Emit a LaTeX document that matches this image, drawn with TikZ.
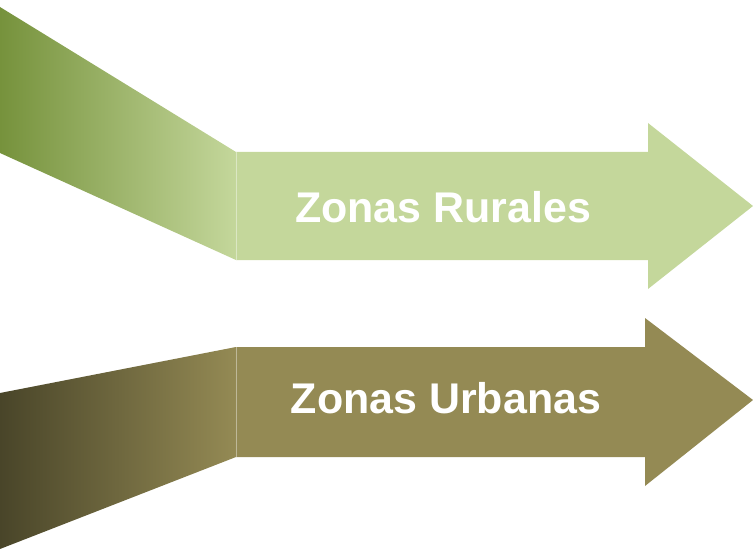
\documentclass[tikz,border=0pt]{standalone}
\usepackage{fontspec}
\setmainfont{Liberation Sans}
\definecolor{ruralLight}{RGB}{196,215,155}
\definecolor{ruralDark}{RGB}{118,146,60}
\definecolor{urbanLight}{RGB}{148,138,84}
\definecolor{urbanDark}{RGB}{73,69,41}
\tikzset{
  zonetext/.style = {text = white, font = \fontsize{32.2}{38}\selectfont\bfseries},
  seam/.style = {white, opacity = .4, line width = .4pt}
}
\begin{document}
\begin{tikzpicture}[x = .75pt, y = -.75pt]
      \useasboundingbox (0,0) rectangle (753,549);
      % rurales
      \shade [left color = ruralDark, right color = ruralLight] (0,7) -- (236,152) -- (236,260) -- (0,153) -- cycle;
      \fill [ruralLight] (236,152) -- (648,152) -- (648,123) -- (753,206) -- (648,289) -- (648,260) -- (236,260) -- cycle;
      \draw [seam] (236,152) -- (236,260);
      \node [zonetext] (rurales) at (443,207) {Zonas Rurales};
      % urbanas
      \shade [left color = urbanDark, right color = urbanLight] (0,393) -- (236,347) -- (236,457) -- (0,549) -- cycle;
      \fill [urbanLight] (236,347) -- (645,347) -- (645,318) -- (753,400) -- (645,486) -- (645,457) -- (236,457) -- cycle;
      \draw [seam] (236,347) -- (236,457);
      \node [zonetext] (urbanas) at (446,398) {Zonas Urbanas};
      \end{tikzpicture}
\end{document}
